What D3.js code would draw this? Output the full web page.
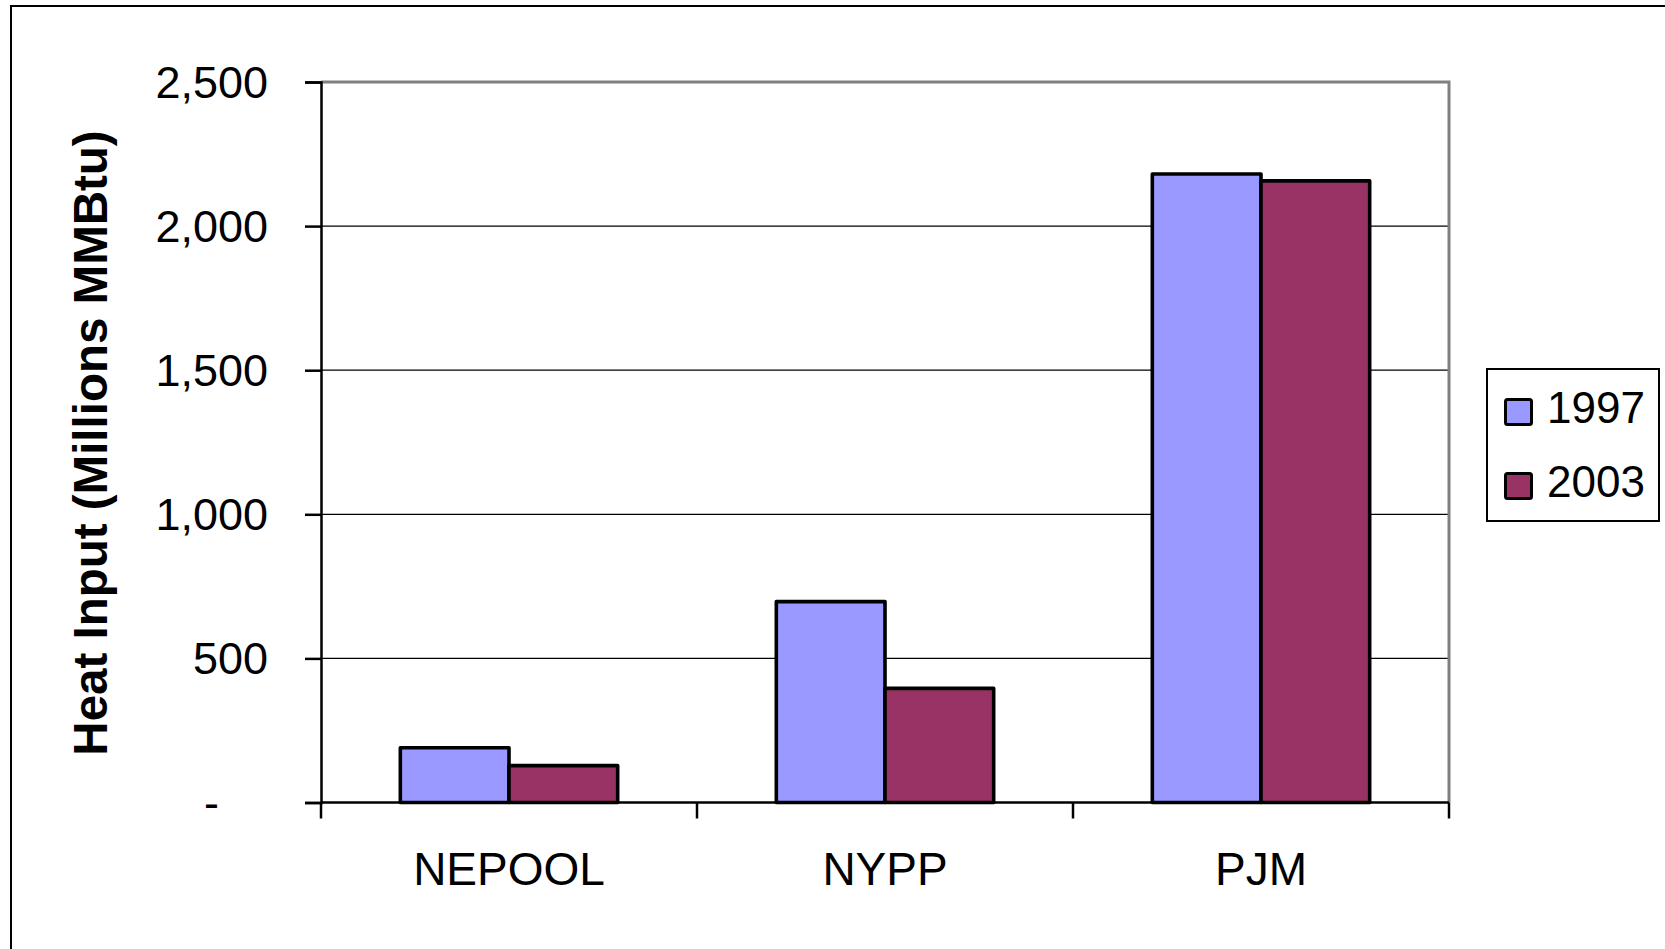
<!DOCTYPE html>
<html>
<head>
<meta charset="utf-8">
<script src="https://cdn.jsdelivr.net/npm/d3@7"></script>
<style>
  html, body { margin: 0; padding: 0; background: #fff; }
  svg { display: block; font-family: Arial, "Liberation Sans", sans-serif; }
</style>
</head>
<body>
<svg id="chart" width="1665" height="949"></svg>
<script>
const categories = ["NEPOOL", "NYPP", "PJM"];
const seriesNames = ["1997", "2003"];
const values1997 = [190, 697, 2181];
const values2003 = [128, 396, 2157];
const yTickValues = [0, 500, 1000, 1500, 2000, 2500];
const yTickLabels = ["-", "500", "1,000", "1,500", "2,000", "2,500"];
const colors = ["#9999FF", "#993366"];
const yTitle = "Heat Input (Millions MMBtu)";

const seriesValues = [values1997, values2003];
const svg = d3.select("#chart");

const plot = { left: 321, right: 1449, top: 82, bottom: 802.5 };

// outer chart border
svg.append("rect")
  .attr("x", 11).attr("y", 6).attr("width", 1720).attr("height", 1000)
  .attr("fill", "#fff").attr("stroke", "#000").attr("stroke-width", 2);

const y = d3.scaleLinear().domain([0, 2500]).range([plot.bottom, plot.top]);
const x0 = d3.scaleBand().domain(categories).range([plot.left, plot.right]).padding(0);
const x1 = d3.scaleBand().domain(seriesNames).range([0, x0.bandwidth()])
  .paddingInner(0).paddingOuter(0.73);

// gridlines
svg.append("g").selectAll("line")
  .data(yTickValues.filter(v => v > 0 && v < 2500))
  .join("line")
  .attr("x1", plot.left).attr("x2", plot.right)
  .attr("y1", d => y(d)).attr("y2", d => y(d))
  .attr("stroke", "#000").attr("stroke-width", 1.2);

// plot border top/right (gray)
svg.append("path")
  .attr("d", `M${plot.left},${y(2500)}H${plot.right}V${y(0)}`)
  .attr("fill", "none").attr("stroke", "#808080").attr("stroke-width", 3);

// bars
const rows = categories.map((c, i) => ({ cat: c, vals: seriesNames.map((s, j) => ({ s, v: seriesValues[j][i], j })) }));
const groups = svg.append("g").selectAll("g")
  .data(rows).join("g")
  .attr("transform", d => `translate(${x0(d.cat)},0)`);
groups.selectAll("rect")
  .data(d => d.vals).join("rect")
  .attr("x", d => x1(d.s))
  .attr("y", d => y(d.v))
  .attr("width", x1.bandwidth())
  .attr("height", d => y(0) - y(d.v))
  .attr("fill", d => colors[d.j])
  .attr("stroke", "#000").attr("stroke-width", 3.6)
  .attr("stroke-linejoin", "round");

// y axis
const yAxis = d3.axisLeft(y)
  .tickValues(yTickValues)
  .tickSize(16)
  .tickPadding(37)
  .tickFormat((d, i) => yTickLabels[i]);
const gy = svg.append("g").attr("transform", `translate(${plot.left},0)`).call(yAxis);
gy.select(".domain").attr("stroke", "#000").attr("stroke-width", 2.5);
gy.selectAll(".tick line").attr("stroke", "#000").attr("stroke-width", 2.5);
gy.selectAll(".tick text")
  .attr("font-size", 45).attr("fill", "#000")
  .attr("font-family", "Arial, 'Liberation Sans', sans-serif")
  .attr("dy", "0.34em")
  .attr("x", (d, i) => yTickLabels[i] === "-" ? -102 : -53);

// x axis line
svg.append("line")
  .attr("x1", plot.left).attr("x2", plot.right)
  .attr("y1", y(0)).attr("y2", y(0))
  .attr("stroke", "#000").attr("stroke-width", 2.5);
// x ticks at category boundaries
const bounds = categories.map(c => x0(c)).concat([x0(categories[categories.length - 1]) + x0.bandwidth()]);
svg.append("g").selectAll("line")
  .data(bounds).join("line")
  .attr("x1", d => d).attr("x2", d => d)
  .attr("y1", y(0)).attr("y2", y(0) + 16)
  .attr("stroke", "#000").attr("stroke-width", 2.5);
// x labels
const xAxis = d3.axisBottom(x0).tickSize(0).tickPadding(0);
const gx = svg.append("g").attr("transform", `translate(0,${y(0)})`).call(xAxis);
gx.select(".domain").remove();
gx.selectAll(".tick text")
  .attr("font-size", 46).attr("fill", "#000")
  .attr("font-family", "Arial, 'Liberation Sans', sans-serif")
  .attr("y", 82).attr("dy", 0);

// y title
svg.append("text")
  .attr("transform", `translate(107,443) rotate(-90)`)
  .attr("text-anchor", "middle")
  .attr("font-size", 47.5).attr("font-weight", "bold")
  .attr("fill", "#000")
  .text(yTitle);

// legend
const legend = svg.append("g");
legend.append("rect")
  .attr("x", 1487).attr("y", 369).attr("width", 172).attr("height", 152)
  .attr("fill", "#fff").attr("stroke", "#000").attr("stroke-width", 2);
const items = legend.selectAll("g.item").data(seriesNames).join("g")
  .attr("class", "item")
  .attr("transform", (d, i) => `translate(0,${i * 74})`);
items.append("rect")
  .attr("x", 1505.5).attr("y", 399.5).attr("width", 26).attr("height", 25)
  .attr("rx", 2)
  .attr("fill", (d, i) => colors[i])
  .attr("stroke", "#000").attr("stroke-width", 3);
items.append("text")
  .attr("x", 1547).attr("y", 423)
  .attr("font-size", 44).attr("fill", "#000")
  .text(d => d);
</script>
</body>
</html>
